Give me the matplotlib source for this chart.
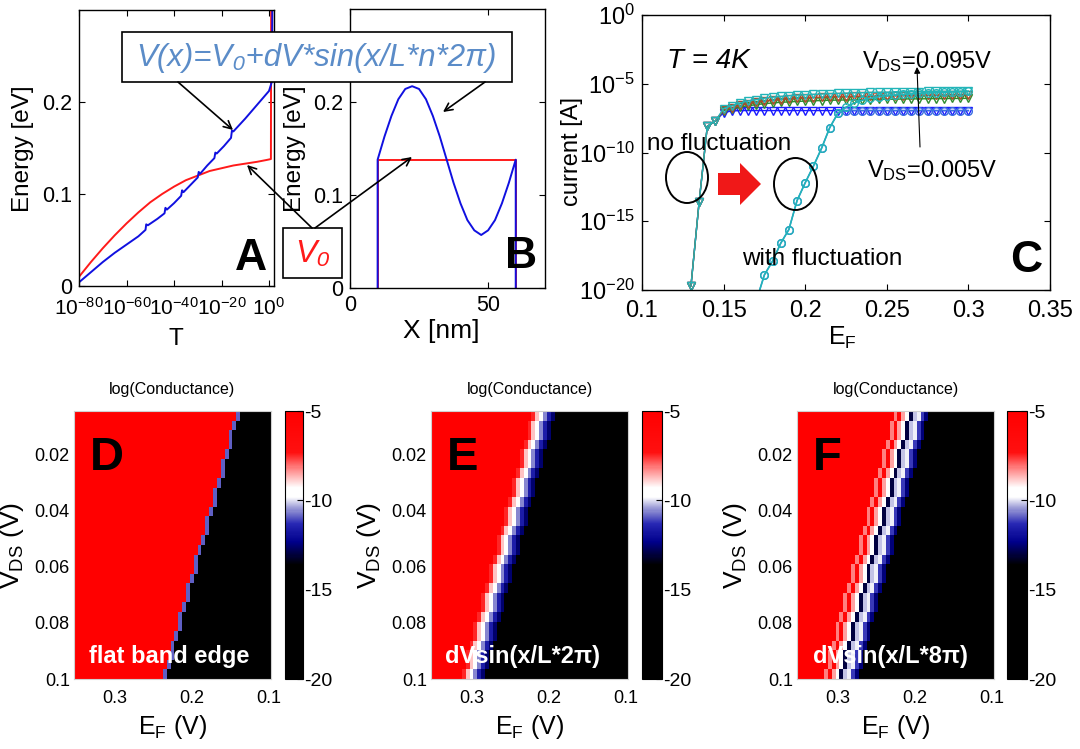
import numpy as np
import matplotlib
matplotlib.use("Agg")
import matplotlib.pyplot as plt
from matplotlib import patches
from matplotlib.colors import LinearSegmentedColormap
from matplotlib.ticker import NullLocator

plt.rcParams['font.family'] = ['Liberation Sans', 'DejaVu Sans']
plt.rcParams['mathtext.fontset'] = 'custom'
plt.rcParams['mathtext.rm'] = 'Liberation Sans'
plt.rcParams['mathtext.it'] = 'Liberation Sans:italic'
plt.rcParams['mathtext.bf'] = 'Liberation Sans:bold'
plt.rcParams['axes.unicode_minus'] = False

NARROW = ['Liberation Sans Narrow', 'Liberation Sans']
W, H = 1080, 749

# ─── DATA: panel A (energy vs transmission) ─────────────────────────────────
a_red_logT = [-80, -75, -70, -65, -60, -55, -50, -45, -40, -35, -30, -25, -20,
              -15, -10, -5, -1, 0.8, 0.9]
a_red_E = [0.010, 0.026, 0.041, 0.055, 0.068, 0.080, 0.091, 0.100, 0.108, 0.115,
           0.120, 0.125, 0.128, 0.131, 0.133, 0.135, 0.137, 0.138, 0.30]
a_blue_logT = [-80, -75, -70, -65, -60, -55, -52, -51.7, -51, -47, -44, -43.6, -43,
               -40, -37, -36.6, -36, -33, -30, -29.6, -29, -26, -23, -22.6, -22,
               -19, -16, -15.6, -15, -10, -5, 0, 1.2, 1.4]
a_blue_E = [0.004, 0.015, 0.026, 0.036, 0.045, 0.054, 0.061, 0.067, 0.066, 0.073,
            0.079, 0.085, 0.083, 0.090, 0.098, 0.104, 0.102, 0.110, 0.118, 0.124,
            0.122, 0.131, 0.139, 0.145, 0.144, 0.152, 0.161, 0.169, 0.168, 0.182,
            0.197, 0.212, 0.222, 0.30]

# ─── DATA: panel B (potential profile) ──────────────────────────────────────
b_red_x = [10, 10, 60, 60]
b_red_E = [0, 0.138, 0.138, 0]
b_blue_x = [10, 10, 12.5, 15, 17.5, 20, 22.5, 25, 27.5, 30, 32.5, 35, 37.5, 40,
            42.5, 45, 47.5, 50, 52.5, 55, 57.5, 60, 60]
b_blue_E = [0, 0.138, 0.163, 0.185, 0.203, 0.214, 0.217, 0.214, 0.203, 0.185, 0.163,
            0.138, 0.113, 0.091, 0.073, 0.062, 0.057, 0.062, 0.073, 0.091, 0.113,
            0.138, 0]

# ─── DATA: panel C (log10 current vs E_F) ───────────────────────────────────
c_ef_rise_nf = [0.13, 0.135, 0.14, 0.145]
c_log_rise_nf = [-19.7, -13.6, -8.1, -7.7]
c_ef_plat = list(np.round(np.arange(0.15, 0.3001, 0.005), 3))
c_plat_blue = [-7.1, -6.98, -6.95, -6.95, -6.95, -6.95, -6.95, -6.95, -6.95, -6.95,
               -6.95, -6.95, -6.95, -6.95, -6.95, -6.95, -6.95, -6.95, -6.95, -6.95,
               -6.95, -6.95, -6.95, -6.95, -6.95, -6.95, -6.95, -6.95, -6.95, -6.95, -6.95]
c_plat_green = [-6.95, -6.85, -6.7, -6.6, -6.52, -6.45, -6.4, -6.35, -6.32, -6.29,
                -6.26, -6.24, -6.22, -6.2, -6.19, -6.18, -6.17, -6.16, -6.15, -6.14,
                -6.13, -6.12, -6.11, -6.1, -6.1, -6.09, -6.08, -6.08, -6.07, -6.07, -6.06]
c_plat_red = [-6.9, -6.75, -6.58, -6.45, -6.35, -6.27, -6.2, -6.15, -6.1, -6.06,
              -6.03, -6.0, -5.98, -5.96, -5.94, -5.93, -5.92, -5.91, -5.9, -5.89,
              -5.88, -5.87, -5.86, -5.85, -5.85, -5.84, -5.83, -5.83, -5.82, -5.82, -5.81]
c_plat_cyan = [-6.8, -6.6, -6.4, -6.25, -6.15, -6.05, -5.98, -5.92, -5.87, -5.83,
               -5.8, -5.77, -5.75, -5.72, -5.7, -5.68, -5.66, -5.65, -5.63, -5.62,
               -5.61, -5.6, -5.59, -5.58, -5.57, -5.56, -5.56, -5.55, -5.55, -5.54, -5.54]
c_ef_rise_f = [0.17, 0.175, 0.18, 0.185, 0.19, 0.195, 0.2, 0.205, 0.21, 0.215, 0.22]
c_log_rise_f = [-20.8, -18.9, -17.9, -16.6, -15.6, -13.5, -12.2, -11.0, -9.7, -8.2, -7.15]
c_tail_cyan_f = [-6.7, -6.4, -6.2, -6.05, -5.95, -5.88, -5.82, -5.78, -5.74, -5.7,
                 -5.67, -5.65, -5.62, -5.6, -5.58, -5.56]

# ─── DATA: panels D-F (log conductance maps) ────────────────────────────────
ef_cols = list(np.round(np.arange(0.35, 0.0999, -0.005), 3))
edge_D = [0.14, 0.145, 0.15, 0.15, 0.155, 0.16, 0.16, 0.165, 0.17, 0.17, 0.175, 0.18,
          0.18, 0.185, 0.19, 0.195, 0.195, 0.2, 0.205, 0.205, 0.21, 0.215, 0.215,
          0.22, 0.225, 0.225, 0.23, 0.235]
edge_E = [0.22, 0.225, 0.225, 0.23, 0.235, 0.235, 0.24, 0.245, 0.245, 0.25, 0.255,
          0.255, 0.26, 0.265, 0.265, 0.27, 0.275, 0.275, 0.28, 0.285, 0.285, 0.29,
          0.295, 0.295, 0.3, 0.305, 0.305, 0.31]
edge_F = [0.225, 0.23, 0.23, 0.235, 0.24, 0.24, 0.245, 0.25, 0.25, 0.255, 0.26, 0.26,
          0.265, 0.27, 0.27, 0.275, 0.28, 0.28, 0.285, 0.29, 0.29, 0.295, 0.3, 0.3,
          0.305, 0.31, 0.31, 0.315]
profile_D = [-10.9]
profile_E = [-7.5, -8.8, -9.6, -10.6, -11.6, -12.6]
profile_F = [-8.2, -6.0, -8.5, -9.5, -13.0, -10.2, -9.9, -11.2, -12.5]
cbar_ticks = [-5, -10, -15, -20]

cm_vals = [-20, -13.6, -12.3, -11.3, -10.4, -9.8, -9.3, -8.3, -7.3, -5]
cm_cols = ['#000000', '#000000', '#00008c', '#2828b4', '#a0a0d8', '#ffffff',
           '#ffffff', '#ff9090', '#ff1010', '#ff0000']
cmap = LinearSegmentedColormap.from_list(
    'cond', [((v + 20) / 15, c) for v, c in zip(cm_vals, cm_cols)])


def band_map(edges, profile):
    z = np.full((len(edges), len(ef_cols)), -20.0)
    for r, e in enumerate(edges):
        for c, ef in enumerate(ef_cols):
            k = int(round((e - ef) / 0.005))
            if k < 0:
                z[r, c] = -5
            elif k < len(profile):
                z[r, c] = profile[k]
    return z


fig = plt.figure(figsize=(10.8, 7.49), dpi=100)


def px_axes(x0, y0, x1, y1):
    return fig.add_axes([x0 / W, 1 - y1 / H, (x1 - x0) / W, (y1 - y0) / H])


def matlab_ticks(ax, size):
    ax.tick_params(direction='in', top=True, right=True, labelsize=size,
                   length=4, width=0.8, pad=5)
    for s in ax.spines.values():
        s.set_linewidth(1.0)


# ─── A ──────────────────────────────────────────────────────────────────────
axA = px_axes(79, 10, 274, 286)
axA.plot(10.0 ** np.array(a_red_logT), a_red_E, color='#ff1a1a', lw=1.4)
axA.plot(10.0 ** np.array(a_blue_logT), a_blue_E, color='#1010e0', lw=1.4)
axA.set_xscale('log')
axA.set_xlim(1e-80, 10 ** 2.1)
axA.set_ylim(0, 0.3)
axA.set_xticks([1e-80, 1e-60, 1e-40, 1e-20, 1e0],
               [r'$10^{-80}$', r'$10^{-60}$', r'$10^{-40}$', r'$10^{-20}$', r'$10^{0}$'])
axA.xaxis.set_minor_locator(NullLocator())
axA.set_yticks([0, 0.1, 0.2], ['0', '0.1', '0.2'])
matlab_ticks(axA, 15.5)
axA.tick_params(axis='x', labelsize=15, pad=8)
axA.text(0.964, 0.058, 'A', transform=axA.transAxes, ha='right', va='baseline',
         fontsize=32, fontweight='bold')

# ─── B ──────────────────────────────────────────────────────────────────────
axB = px_axes(350, 9, 545, 288)
axB.plot(b_red_x, b_red_E, color='#ff1a1a', lw=1.4)
axB.plot(b_blue_x, b_blue_E, color='#1010e0', lw=1.4)
axB.set_xlim(0, 70.6)
axB.set_ylim(0, 0.3)
axB.set_xticks([0, 50], ['0', '50'])
axB.set_yticks([0, 0.1, 0.2], ['0', '0.1', '0.2'])
matlab_ticks(axB, 15.5)
axB.text(0.959, 0.072, 'B', transform=axB.transAxes, ha='right', va='baseline',
         fontsize=32, fontweight='bold')

# ─── C ──────────────────────────────────────────────────────────────────────
axC = px_axes(642, 15, 1050, 290)
curves = [('#1a1aff', c_plat_blue), ('#2e8b2e', c_plat_green),
          ('#b04a2a', c_plat_red), ('#22b4b8', c_plat_cyan)]
for col, plat in curves:
    axC.plot(c_ef_rise_nf + c_ef_plat, 10.0 ** np.array(c_log_rise_nf + plat),
             color=col, lw=1.0, marker='v', ms=6, mfc='none', mew=1.0)
axC.plot(c_ef_rise_f + c_ef_plat[15:], 10.0 ** np.array(c_log_rise_f + c_plat_blue[15:]),
         color='#3a6ee0', lw=1.0, marker='o', ms=5.5, mfc='none', mew=1.0)
axC.plot(c_ef_rise_f + c_ef_plat[15:], 10.0 ** np.array(c_log_rise_f + c_tail_cyan_f),
         color='#22b4b8', lw=1.2, marker='o', ms=5.5, mfc='none', mew=1.0)
axC.set_yscale('log')
axC.set_ylim(1e-20, 1e0)
axC.set_xlim(0.1, 0.35)
axC.set_yticks([1e-20, 1e-15, 1e-10, 1e-5, 1e0],
               [r'$10^{-20}$', r'$10^{-15}$', r'$10^{-10}$', r'$10^{-5}$', r'$10^{0}$'])
axC.yaxis.set_minor_locator(NullLocator())
axC.set_xticks([0.1, 0.15, 0.2, 0.25, 0.3, 0.35],
               ['0.1', '0.15', '0.2', '0.25', '0.3', '0.35'])
matlab_ticks(axC, 17)
axC.tick_params(axis='x', pad=7)
axC.text(0.98, 0.065, 'C', transform=axC.transAxes, ha='right', va='baseline',
         fontsize=32, fontweight='bold')

# ─── D, E, F ────────────────────────────────────────────────────────────────
maps = [(74, 271, 285, 303, edge_D, profile_D, 'D', 'flat band edge', 89),
        (431, 628, 642, 662, edge_E, profile_E, 'E', 'dVsin(x/L*2\u03c0)', 445),
        (797, 994, 1007, 1027, edge_F, profile_F, 'F', 'dVsin(x/L*8\u03c0)', 813)]
for x0, x1, cx0, cx1, edges, prof, letter, note, nx in maps:
    ax = px_axes(x0, 411, x1, 679)
    im = ax.imshow(band_map(edges, prof), cmap=cmap, vmin=-20, vmax=-5,
                   aspect='auto', interpolation='nearest',
                   extent=(ef_cols[0] + 0.0025, ef_cols[-1] - 0.0025, 0.1, 0.0044))
    ax.set_xticks([0.3, 0.2, 0.1], ['0.3', '0.2', '0.1'], fontfamily=NARROW)
    ax.set_yticks([0.02, 0.04, 0.06, 0.08, 0.1], ['0.02', '0.04', '0.06', '0.08', '0.1'],
                  fontfamily=NARROW)
    ax.tick_params(length=0, labelsize=13, pad=3)
    ax.tick_params(axis='x', pad=8)
    for s in ax.spines.values():
        s.set_color('#d0d0d0')
        s.set_linewidth(0.8)
    ax.text(16 / (x1 - x0), 0.78, letter, transform=ax.transAxes,
            ha='left', va='baseline', fontsize=34, fontweight='bold')
    ax.text((nx - x0) / (x1 - x0), 0.06, note, transform=ax.transAxes,
            ha='left', va='baseline', fontsize=17, fontweight='bold', color='white')
    ax.set_title('log(Conductance)', fontsize=11.5, fontfamily=NARROW, pad=12)
    ax.set_xlabel(r'E$_\mathrm{F}$ (V)', fontsize=18, fontfamily=NARROW, labelpad=4)
    ax.set_ylabel(r'V$_\mathrm{DS}$ (V)', fontsize=19, fontfamily=NARROW, labelpad=6)

    cax = px_axes(cx0, 411, cx1, 679)
    cb = fig.colorbar(im, cax=cax, ticks=cbar_ticks)
    cb.outline.set_linewidth(0.8)
    cax.tick_params(direction='in', length=4, width=0.8, labelsize=14, pad=1)
    cax.set_yticklabels([str(t) for t in cbar_ticks], fontfamily=NARROW)

# ─── overlay in pixel coordinates: labels, boxes, arrows ────────────────────
ov = fig.add_axes([0, 0, 1, 1])
ov.set_xlim(0, W)
ov.set_ylim(H, 0)
ov.axis('off')


def arrow(x0, y0, x1, y1, style='->', lw=1.2, ms=14):
    ov.annotate('', xy=(x1, y1), xytext=(x0, y0),
                arrowprops=dict(arrowstyle=style, color='black', lw=lw,
                                shrinkA=0, shrinkB=0, mutation_scale=ms))


ov.text(23, 149, 'Energy [eV]', rotation=90, ha='center', va='center', fontsize=17.5)
ov.text(176, 339, 'T', ha='center', va='center', fontsize=17.5)
ov.text(295, 149, 'Energy [eV]', rotation=90, ha='center', va='center', fontsize=17.5)
ov.text(441, 331, 'X [nm]', ha='center', va='center', fontsize=19)
ov.text(572, 152, 'current [A]', rotation=90, ha='center', va='center', fontsize=17)
ov.text(842, 338, r'E$_\mathrm{F}$', ha='center', va='center', fontsize=18)

arrow(178, 82, 233, 130)
arrow(485, 82, 443, 112)
arrow(312, 228, 247, 165)
arrow(315, 228, 412, 157)
ov.add_patch(patches.Rectangle((122, 32), 390, 50, fc='white', ec='black', lw=1.2))
ov.text(316, 58, 'V(x)=V\u2080+dV*sin(x/L*n*2\u03c0)', ha='center', va='center',
        fontsize=22.5, fontstyle='italic', color='#5b8cc8')
ov.add_patch(patches.Rectangle((283, 228), 59, 50, fc='white', ec='black', lw=1.2))
ov.text(312.5, 254, 'V\u2080', ha='center', va='center', fontsize=23,
        fontstyle='italic', color='#ff1a1a')

ov.text(667, 68, 'T = 4K', ha='left', va='baseline', fontsize=20, fontstyle='italic')
ov.text(862, 68, r'V$_\mathrm{DS}$=0.095V', ha='left', va='baseline', fontsize=17)
ov.text(867, 177, r'V$_\mathrm{DS}$=0.005V', ha='left', va='baseline', fontsize=17)
arrow(920, 147, 917, 67, style='-|>', lw=0.8, ms=9)
ov.text(647, 150, 'no fluctuation', ha='left', va='baseline', fontsize=17.5)
ov.text(742, 265, 'with fluctuation', ha='left', va='baseline', fontsize=17.5)
ov.add_patch(patches.Ellipse((687, 177.5), 42, 51, fill=False, ec='black', lw=1.4))
ov.add_patch(patches.Ellipse((795.5, 184), 43, 52, fill=False, ec='black', lw=1.4))
ov.add_patch(patches.FancyArrow(718, 184, 22, 0, width=22, head_width=42,
                                head_length=21, length_includes_head=False,
                                fc='#f01818', ec='none'))

fig.savefig('out.png', dpi=100)
